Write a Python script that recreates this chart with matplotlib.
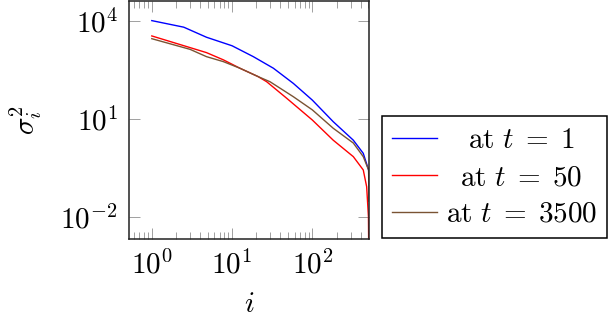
import numpy as np
from matplotlib import pyplot as plt
from matplotlib.ticker import FixedLocator, FuncFormatter, NullLocator

plt.rcParams['mathtext.fontset'] = 'cm'
plt.rcParams['font.family'] = 'serif'
plt.rcParams['font.serif'] = ['DejaVu Serif']

FONT_SIZE = 21

# values (index i, variance sigma_i^2)
i_t1 = [1, 2.5, 4.8, 10, 18.4, 32.7, 58, 100, 182, 324, 431, 502, 508]
sigma_t1 = [1.0e4, 6.3e3, 3.1e3, 1.7e3, 7.9e2, 3.5e2, 1.2e2, 37, 8.1, 2.2, 0.87, 0.27, 0.18]

i_t50 = [1, 4.8, 7.8, 12.6, 21, 27, 48, 100, 182, 324, 431, 475, 500, 508]
sigma_t50 = [3400, 1050, 630, 347, 195, 135, 42, 9.1, 2.2, 0.69, 0.27, 0.083, 0.01, 1e-4]

i_t3500 = [1, 3, 4.8, 7.8, 12.6, 21, 29.7, 58, 100, 182, 324, 431, 502, 508]
sigma_t3500 = [2800, 1320, 790, 556, 347, 195, 135, 47, 18.6, 5.1, 1.8, 0.69, 0.27, 0.03]

labels = [r'$\mathrm{at}\ t\;=\;1$', r'$\mathrm{at}\ t\;=\;50$', r'$\mathrm{at}\ t\;=\;3500$']
colors = ['#0000ff', '#ff0000', '#7a5333']

x_major = [1, 10, 100]
y_major = [1e-2, 1e1, 1e4]


def log_label(value, pos):
    return r'$10^{%d}$' % int(round(np.log10(value)))


def main():
    figure = plt.figure(figsize=(6.08, 3.18), dpi=100)
    axis = figure.add_axes([129 / 608, 1 - 239 / 318, 240 / 608, 238 / 318])

    for xs, ys, label, color in zip([i_t1, i_t50, i_t3500], [sigma_t1, sigma_t50, sigma_t3500], labels, colors):
        axis.plot(xs, ys, color=color, lw=1.0, label=label)

    axis.set_xscale('log')
    axis.set_yscale('log')
    axis.set_xlim(0.52, 508)
    axis.set_ylim(10 ** -2.68, 10 ** 4.6)

    axis.xaxis.set_major_locator(FixedLocator(x_major))
    axis.yaxis.set_major_locator(FixedLocator(y_major))
    minors = [m * 10.0 ** d for d in range(-1, 3) for m in range(2, 10)]
    axis.xaxis.set_minor_locator(FixedLocator(minors))
    axis.yaxis.set_minor_locator(NullLocator())
    axis.xaxis.set_major_formatter(FuncFormatter(log_label))
    axis.yaxis.set_major_formatter(FuncFormatter(log_label))

    axis.tick_params(which='both', direction='in', top=True, right=True, color='#a0a0a0',
                     width=0.7, labelsize=FONT_SIZE)
    axis.tick_params(which='major', length=8, pad=8)
    axis.tick_params(which='minor', length=5)
    for spine in axis.spines.values():
        spine.set_color('#222222')
        spine.set_linewidth(1.1)

    axis.set_xlabel(r'$i$', fontsize=FONT_SIZE, labelpad=8)
    axis.set_ylabel(r'$\sigma_i^2$', fontsize=FONT_SIZE, labelpad=12)

    legend = axis.legend(loc='center', bbox_to_anchor=(494.5 / 608, 1 - 177 / 318),
                         bbox_transform=figure.transFigure, fontsize=FONT_SIZE, frameon=True,
                         fancybox=False, edgecolor='black', framealpha=1, borderpad=0.35,
                         handlelength=1.55, handletextpad=0.3, labelspacing=0.3, borderaxespad=0)
    legend.get_frame().set_linewidth(1.1)

    # centre the legend texts like pgfplots does (offset is in pixels)
    renderer = figure.canvas.get_renderer()
    widths = [t.get_window_extent(renderer).width for t in legend.get_texts()]
    for text, w in zip(legend.get_texts(), widths):
        text.set_position(((max(widths) - w) / 2, 0))

    figure.savefig('out.png', dpi=100)


if __name__ == "__main__":
    main()
